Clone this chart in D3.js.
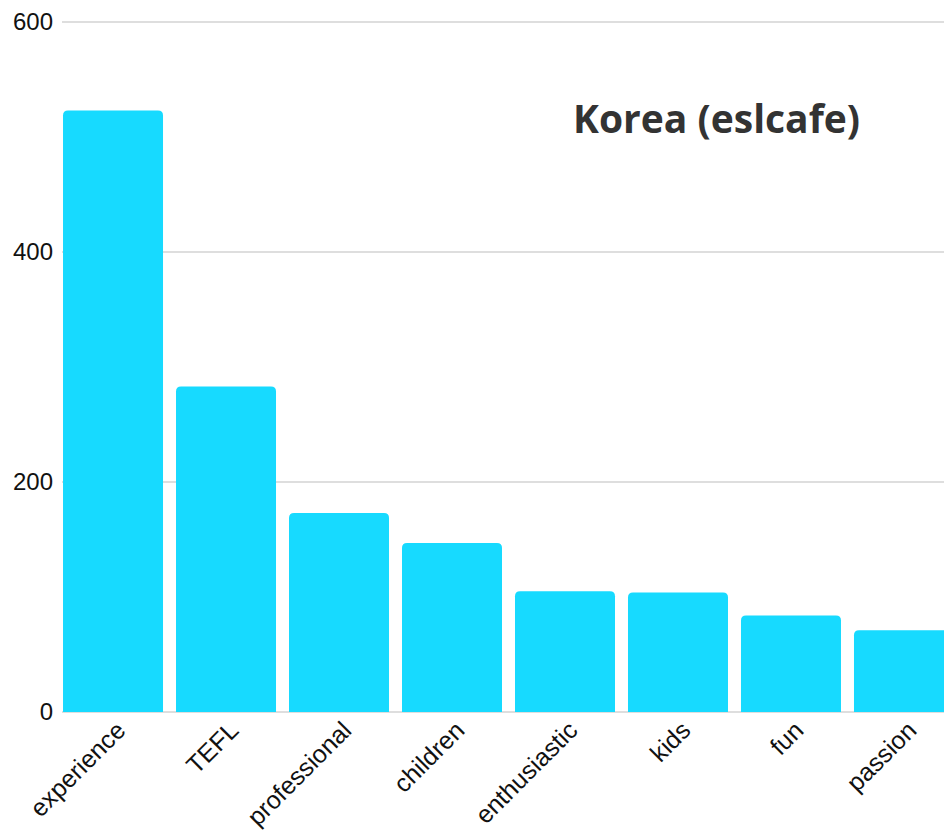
<!DOCTYPE html>
<html><head><meta charset="utf-8">
<script src="https://cdn.jsdelivr.net/npm/d3@7"></script>
<style>body{margin:0;background:#fff}svg{display:block}</style>
</head><body><svg id="c" width="944" height="832"></svg>
<script>
const categories = ["experience","TEFL","professional","children","enthusiastic","kids","fun","passion"];
const values = [523, 283, 173, 147, 105, 104, 84, 71];
const yTicks = [0, 200, 400, 600];
const title = "Korea (eslcafe)";

const svg = d3.select("#c");
const W = 944, H = 832;
const left = 62, y0 = 712, yTop = 22;

const x = d3.scaleBand().domain(categories).range([left, 955]).paddingInner(0.115).paddingOuter(0.009);
const y = d3.scaleLinear().domain([0, 600]).range([y0, yTop]);

// gridlines
svg.append("g").selectAll("line").data(yTicks).join("line")
  .attr("x1", left).attr("x2", W)
  .attr("y1", d => y(d)).attr("y2", d => y(d))
  .attr("stroke", "#dedede").attr("stroke-width", 2);

// y axis labels
const yAxis = d3.axisLeft(y).tickValues(yTicks).tickSize(0).tickPadding(9);
const gy = svg.append("g").attr("transform", `translate(${left},0)`).call(yAxis);
gy.select(".domain").remove();
gy.selectAll("text").attr("font-family", "'Liberation Sans', Arial, sans-serif")
  .attr("font-size", 24).attr("fill", "#111");

// bars with rounded top corners
const r = 5;
svg.append("g").selectAll("path").data(categories).join("path")
  .attr("fill", "#17daff")
  .attr("d", (d, i) => {
    const bx = x(d), bw = x.bandwidth(), by = y(values[i]), bb = y(0);
    return `M${bx},${bb}V${by + r}Q${bx},${by} ${bx + r},${by}H${bx + bw - r}Q${bx + bw},${by} ${bx + bw},${by + r}V${bb}Z`;
  });

// x axis labels
const xAxis = d3.axisBottom(x).tickSize(0).tickPadding(0);
const gx = svg.append("g").attr("transform", `translate(0,${y0})`).call(xAxis);
gx.select(".domain").remove();
gx.selectAll("text")
  .attr("font-family", "'Liberation Sans', Arial, sans-serif")
  .attr("font-size", 25).attr("fill", "#111")
  .attr("text-anchor", "end").attr("y", 0).attr("dy", 0)
  .attr("transform", "translate(14,20) rotate(-45)");

// title
svg.append("text").attr("x", 573).attr("y", 133)
  .attr("font-family", "'Open Sans', sans-serif").attr("font-weight", 700)
  .attr("font-size", 39).attr("fill", "#333").text(title);
</script></body></html>
